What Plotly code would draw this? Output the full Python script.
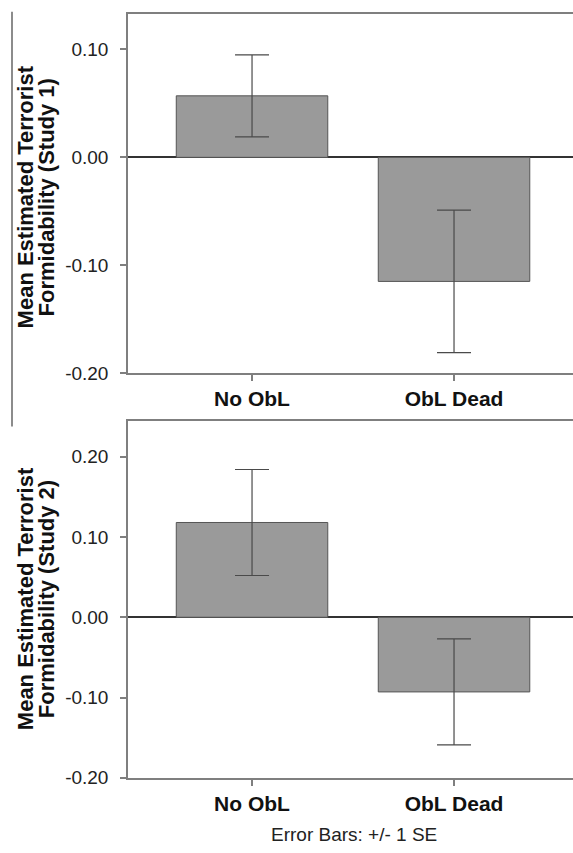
import plotly.graph_objects as go

categories = ["No ObL", "ObL Dead"]
study1_means = [0.057, -0.115]
study1_se = [0.038, 0.066]
study2_means = [0.118, -0.093]
study2_se = [0.066, 0.066]
y1_ticks = [-0.20, -0.10, 0.00, 0.10]
y1_ticklabels = ["-0.20", "-0.10", "0.00", "0.10"]
y2_ticks = [-0.20, -0.10, 0.00, 0.10, 0.20]
y2_ticklabels = ["-0.20", "-0.10", "0.00", "0.10", "0.20"]
y1_title = ["Mean Estimated Terrorist", "Formidability (Study 1)"]
y2_title = ["Mean Estimated Terrorist", "Formidability (Study 2)"]
footnote = "Error Bars: +/- 1 SE"

W, H = 573, 853
FONT = "Liberation Sans, Arial, sans-serif"
BAR_FILL = "#9a9a9a"
BAR_LINE = "#555555"
AXIS = "#7f7f7f"

fig = go.Figure()
for means, se, xa, ya in [(study1_means, study1_se, "x", "y"), (study2_means, study2_se, "x2", "y2")]:
    fig.add_trace(go.Bar(
        x=categories, y=means, xaxis=xa, yaxis=ya, width=0.75,
        marker=dict(color=BAR_FILL, line=dict(color=BAR_LINE, width=1)),
        error_y=dict(type="data", array=se, visible=True, color="#4a4a4a", thickness=1.2, width=17),
        showlegend=False, hoverinfo="skip",
    ))

def px_x(p):
    return p / W

def px_y(p):
    return 1 - p / H

xcommon = dict(
    type="category", range=[-0.614, 1.589], domain=[px_x(128), 1.0],
    showline=True, linecolor=AXIS, linewidth=1.5, mirror=True,
    ticks="outside", ticklen=6, tickcolor=AXIS, tickwidth=1.5,
    tickfont=dict(family=FONT, size=21, color="#111111", weight="bold"),
    showgrid=False, zeroline=False,
)
ycommon = dict(
    showline=True, linecolor=AXIS, linewidth=1.5,
    ticks="outside", ticklen=6, tickcolor=AXIS, tickwidth=1.5,
    tickfont=dict(family=FONT, size=19, color="#222222"),
    ticklabelstandoff=8,
    showgrid=False, zeroline=True, zerolinecolor="#333333", zerolinewidth=1.5,
)

fig.update_layout(
    width=W, height=H, margin=dict(l=0, r=0, t=0, b=0),
    paper_bgcolor="white", plot_bgcolor="white",
    xaxis=dict(**xcommon, anchor="y"),
    xaxis2=dict(**xcommon, anchor="y2"),
    yaxis=dict(**ycommon, anchor="x", domain=[px_y(378), px_y(14)],
               range=[-0.20, 0.133], tickvals=y1_ticks, ticktext=y1_ticklabels),
    yaxis2=dict(**ycommon, anchor="x2", domain=[px_y(788), px_y(426)],
                range=[-0.20, 0.245], tickvals=y2_ticks, ticktext=y2_ticklabels),
)

for lines, yc in [(y1_title, 200), (y2_title, 607)]:
    for text, xc in zip(lines, [25, 46]):
        fig.add_annotation(text=text, xref="paper", yref="paper", x=px_x(xc), y=px_y(yc),
                           textangle=-90, showarrow=False, xanchor="center", yanchor="middle",
                           font=dict(family=FONT, size=22, color="#111111", weight="bold"))
fig.add_annotation(text=footnote, xref="paper", yref="paper", x=px_x(354), y=px_y(845),
                   showarrow=False, xanchor="center", yanchor="middle",
                   font=dict(family=FONT, size=19, color="#222222"))

fig.add_shape(type="line", xref="paper", yref="paper", x0=px_x(12), x1=px_x(12),
              y0=px_y(12), y1=px_y(432), line=dict(color="#666666", width=1.5))

fig.write_html("out.html", config={"displayModeBar": False},
               post_script="document.body.style.margin='0';document.body.style.overflow='hidden';")
